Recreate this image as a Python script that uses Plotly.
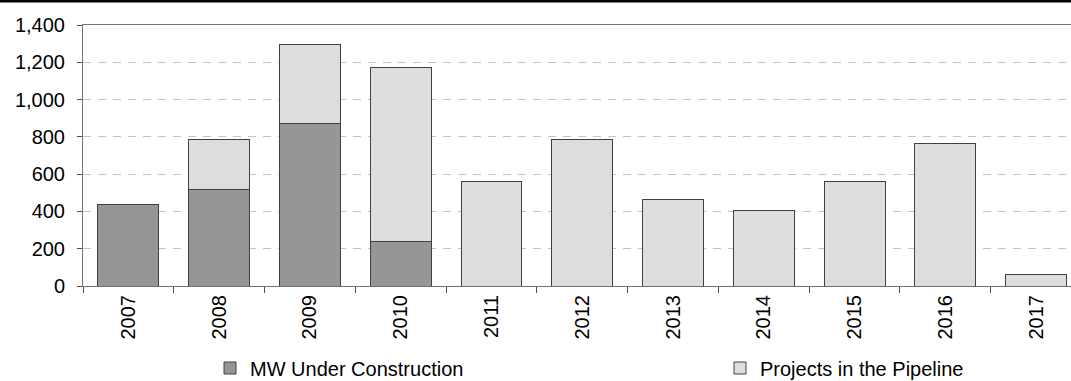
import plotly.graph_objects as go

# Annual capacity (MW)
years = ["2007", "2008", "2009", "2010", "2011", "2012", "2013", "2014", "2015", "2016", "2017"]
under_construction = [435, 520, 870, 240, None, None, None, None, None, None, None]
pipeline = [None, 267, 425, 930, 560, 787, 465, 406, 560, 765, 63]

y_ticks = [0, 200, 400, 600, 800, 1000, 1200, 1400]

FONT = "Liberation Sans, Arial, sans-serif"
BAR_LINE = dict(color="#404040", width=1)

W, H = 1071, 381
ML, MT, MB, MR = 83, 25, 95, 0
plot_w = W - ML - MR
plot_h = H - MT - MB

def px_x(px):
    # pixel column -> paper x
    return (px - ML) / plot_w

def py(px):
    # pixel row -> paper y
    return (H - MB - px) / plot_h

fig = go.Figure()
fig.add_trace(go.Bar(
    x=years, y=under_construction, name="MW Under Construction",
    marker=dict(color="#969696", line=BAR_LINE), width=0.67, legend="legend",
))
fig.add_trace(go.Bar(
    x=years, y=pipeline, name="Projects in the Pipeline",
    marker=dict(color="#dddddd", line=BAR_LINE), width=0.67, legend="legend2",
))

legend_common = dict(
    orientation="h", yanchor="middle", y=py(368), xanchor="left",
    font=dict(family=FONT, size=20, color="black"),
    bgcolor="rgba(0,0,0,0)",
)

fig.update_layout(
    width=W, height=H,
    margin=dict(l=ML, r=MR, t=MT, b=MB, pad=0, autoexpand=False),
    barmode="stack",
    plot_bgcolor="white", paper_bgcolor="white",
    font=dict(family=FONT, size=20, color="black"),
    showlegend=True,
    legend=dict(x=px_x(210), **legend_common),
    legend2=dict(x=px_x(720), **legend_common),
    shapes=[
        dict(type="rect", xref="paper", yref="paper",
             x0=-0.2, x1=1.1, y0=py(2.5), y1=py(-1),
             fillcolor="black", line=dict(width=0), layer="above"),
    ],
)

fig.update_xaxes(
    type="category", range=[-0.5, 10.384],
    tickangle=-90, ticks="outside", tickson="boundaries", ticklen=6,
    tickcolor="#505050", tickwidth=1,
    showline=True, linecolor="#707070", linewidth=1, mirror=True,
    showgrid=False, tickfont=dict(family=FONT, size=20, color="black"),
)
fig.update_yaxes(
    range=[0, 1400], tickvals=y_ticks, tickformat=",",
    ticks="outside", ticklen=5, tickcolor="#505050", tickwidth=1,
    ticklabelstandoff=8,
    showline=True, linecolor="#707070", linewidth=1,
    showgrid=True, gridcolor="#c4c4c4", gridwidth=1, griddash="8px,7px",
    zeroline=False, tickfont=dict(family=FONT, size=20, color="black"),
)

fig.write_html("out.html")
